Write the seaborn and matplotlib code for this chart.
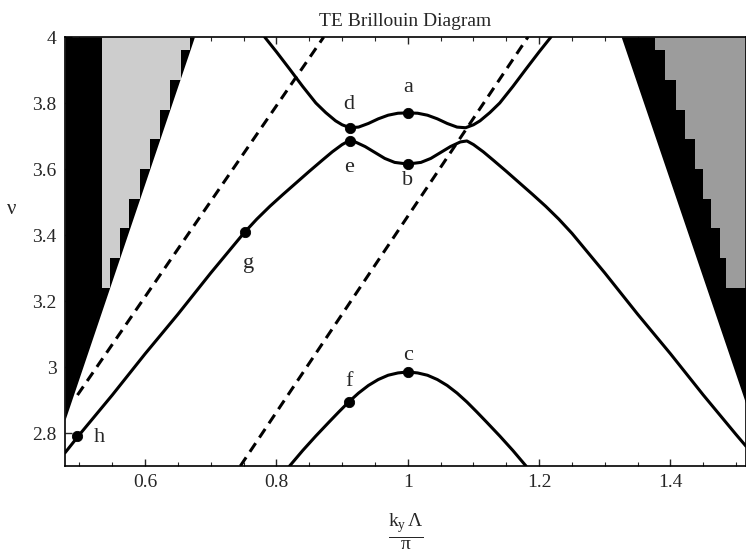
import numpy as np
import pandas as pd
import matplotlib
matplotlib.use("Agg")
import matplotlib.pyplot as plt
import seaborn as sns
from matplotlib.ticker import FormatStrFormatter, MultipleLocator

# ---- band curves
band_mid_x = [0.478, 0.50, 0.55, 0.60, 0.65, 0.70, 0.72, 0.75, 0.77, 0.79, 0.81, 0.83, 0.85,
              0.87, 0.885, 0.90, 0.91, 0.92, 0.935, 0.95, 0.965, 0.98, 1.00,
              1.02, 1.035, 1.05, 1.065, 1.08, 1.09, 1.10, 1.115, 1.13, 1.15, 1.17, 1.19,
              1.21, 1.23, 1.25, 1.28, 1.30, 1.35, 1.40, 1.45, 1.50, 1.515]
band_mid_y = [2.74, 2.795, 2.915, 3.04, 3.16, 3.285, 3.333, 3.405, 3.448, 3.487, 3.523, 3.558, 3.593,
              3.627, 3.652, 3.674, 3.685, 3.682, 3.668, 3.65, 3.632, 3.62, 3.615,
              3.62, 3.632, 3.65, 3.668, 3.682, 3.685, 3.674, 3.652, 3.627, 3.593, 3.558, 3.523,
              3.487, 3.448, 3.405, 3.333, 3.285, 3.16, 3.04, 2.915, 2.795, 2.76]

band_top_x = [0.782, 0.80, 0.82, 0.84, 0.86, 0.875, 0.89, 0.90, 0.912, 0.925, 0.94, 0.955,
              0.97, 0.985, 1.00, 1.015, 1.03, 1.045, 1.06, 1.075, 1.088, 1.10, 1.11, 1.125,
              1.14, 1.16, 1.18, 1.20, 1.218]
band_top_y = [4.0, 3.955, 3.903, 3.85, 3.80, 3.771, 3.746, 3.734, 3.725, 3.727, 3.738, 3.752,
              3.763, 3.769, 3.77, 3.769, 3.763, 3.752, 3.738, 3.727, 3.725, 3.734, 3.746, 3.771,
              3.80, 3.85, 3.903, 3.955, 4.0]

band_low_x = [0.82, 0.84, 0.86, 0.88, 0.895, 0.91, 0.925, 0.94, 0.955, 0.97, 0.985, 1.00,
              1.015, 1.03, 1.045, 1.06, 1.075, 1.09, 1.105, 1.12, 1.14, 1.16, 1.18]
band_low_y = [2.70, 2.747, 2.791, 2.833, 2.864, 2.894, 2.921, 2.944, 2.962, 2.975, 2.982, 2.985,
              2.982, 2.975, 2.962, 2.944, 2.921, 2.894, 2.864, 2.833, 2.791, 2.747, 2.70]

# dashed light lines
dash1_x = [0.497, 0.872]
dash1_y = [2.915, 4.0]
dash2_x = [0.745, 1.183]
dash2_y = [2.70, 4.0]

# marked points
pt_names = ["a", "b", "c", "d", "e", "f", "g", "h"]
pt_x = [1.0, 1.0, 1.0, 0.912, 0.912, 0.910, 0.752, 0.497]
pt_y = [3.77, 3.615, 2.985, 3.725, 3.685, 2.894, 3.41, 2.79]
lab_x = [1.0, 1.0, 1.0, 0.910, 0.910, 0.910, 0.757, 0.530]
lab_y = [3.848, 3.565, 3.036, 3.794, 3.606, 2.955, 3.315, 2.785]

# shaded regions (light line edges and the grey staircases)
left_edge_x = [0.478, 0.675]
left_edge_y = [2.84, 4.0]
right_edge_x = [1.325, 1.515]
right_edge_y = [4.0, 2.887]
step_y = [3.24, 3.33, 3.42, 3.51, 3.60, 3.69, 3.78, 3.87, 3.96, 4.0]
left_step_x = [0.546, 0.561, 0.576, 0.592, 0.607, 0.622, 0.638, 0.655, 0.668, 0.668]
left_step_start = 0.535
right_step_x = [1.485, 1.475, 1.462, 1.450, 1.437, 1.422, 1.408, 1.392, 1.376, 1.376]

xmin, xmax = 0.478, 1.515
ymin, ymax = 2.7, 4.0

sns.set_style("ticks")
plt.rcParams['font.family'] = ['Liberation Serif', 'DejaVu Serif']
plt.rcParams['mathtext.fontset'] = 'custom'
plt.rcParams['mathtext.rm'] = 'Liberation Serif'
plt.rcParams['mathtext.it'] = 'Liberation Serif'

fig = plt.figure(figsize=(7.46, 5.55), dpi=100)
ax = fig.add_axes([65 / 746, 1 - 466 / 555, 681 / 746, 429 / 555])

# black regions outside the light lines
ax.fill_betweenx(np.array(left_edge_y), xmin, np.array(left_edge_x), color='black', lw=0, zorder=1)
ax.fill_betweenx(np.array(right_edge_y)[::-1], np.array(right_edge_x)[::-1], xmax,
                 color='black', lw=0, zorder=1)
# grey staircases
ax.fill_betweenx(step_y, left_step_start, left_step_x, step='post', color='#cdcdcd', lw=0, zorder=2)
ax.fill_betweenx(step_y, right_step_x, xmax, step='post', color='#9c9c9c', lw=0, zorder=2)

lw = 2.2
for bx, by in [(band_mid_x, band_mid_y), (band_top_x, band_top_y), (band_low_x, band_low_y)]:
    sns.lineplot(x=bx, y=by, color='black', lw=lw, sort=False, estimator=None, ax=ax, zorder=3)
for dx, dy in [(dash1_x, dash1_y), (dash2_x, dash2_y)]:
    ax.plot(dx, dy, color='black', lw=lw, dashes=(3.4, 2.2), zorder=3)

pts = pd.DataFrame({'x': pt_x, 'y': pt_y})
sns.scatterplot(data=pts, x='x', y='y', color='black', s=55, edgecolor='black', ax=ax, zorder=4)
for n, tx, ty in zip(pt_names, lab_x, lab_y):
    ax.text(tx, ty, n, fontsize=16, ha='center', va='center', zorder=5)

ax.set_xlim(xmin, xmax)
ax.set_ylim(ymin, ymax)
ax.set_xticks([0.6, 0.8, 1.0, 1.2, 1.4])
ax.set_yticks([2.8, 3.0, 3.2, 3.4, 3.6, 3.8, 4.0])
ax.xaxis.set_major_formatter(FormatStrFormatter('%g'))
ax.yaxis.set_major_formatter(FormatStrFormatter('%g'))
ax.xaxis.set_minor_locator(MultipleLocator(0.05))
ax.tick_params(axis='both', which='major', direction='in', length=5, width=1,
               labelsize=14, top=True, pad=6)
ax.tick_params(axis='x', which='minor', direction='in', length=3, width=0.8, top=True)
for s in ax.spines.values():
    s.set_linewidth(1.2)
    s.set_color('black')

ax.set_title('TE Brillouin Diagram', fontsize=14, pad=8)
ax.set_xlabel(r'$\frac{\mathrm{k_y}\,\Lambda}{\mathrm{π}}$', fontsize=20, labelpad=14)
ax.set_ylabel('ν', fontsize=15, rotation=0)
ax.yaxis.set_label_coords(-0.078, 0.575)

fig.savefig('out.png', dpi=100)
